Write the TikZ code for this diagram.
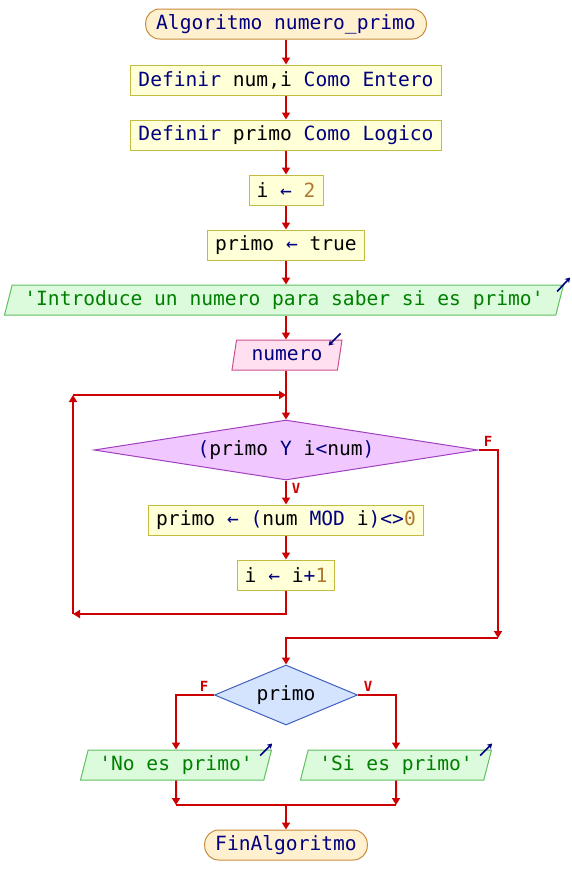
\documentclass[tikz,border=0pt]{standalone}
\usepackage{fontspec}
\setmonofont{DejaVu Sans Mono}
\usetikzlibrary{shapes.geometric,arrows.meta}

\definecolor{flujo}{RGB}{204,0,0}
\definecolor{clave}{RGB}{0,0,128}
\definecolor{numero}{RGB}{176,120,48}
\definecolor{cadena}{RGB}{0,128,0}
\definecolor{procfill}{RGB}{255,255,216}
\definecolor{procline}{RGB}{196,188,64}
\definecolor{extfill}{RGB}{255,240,208}
\definecolor{extline}{RGB}{200,140,60}
\definecolor{salfill}{RGB}{220,250,220}
\definecolor{salline}{RGB}{96,192,96}
\definecolor{entfill}{RGB}{255,224,240}
\definecolor{entline}{RGB}{204,80,144}
\definecolor{condfill}{RGB}{240,200,255}
\definecolor{condline}{RGB}{160,64,192}
\definecolor{selfill}{RGB}{212,228,255}
\definecolor{selline}{RGB}{64,96,192}

\newcommand{\kw}[1]{\textcolor{clave}{#1}}
\newcommand{\nr}[1]{\textcolor{numero}{#1}}
\newcommand{\asig}{\kw{←}}

\tikzset{
  base/.style={draw, line width=1pt, minimum height=30pt, inner ysep=0pt,
    font=\fontsize{19.6}{20}\ttfamily},
  proceso/.style={base, rectangle, fill=procfill, draw=procline, inner xsep=7.5pt},
  extremo/.style={base, rectangle, rounded corners=14pt, fill=extfill,
    draw=extline, inner xsep=10.5pt, text=clave},
  es/.style={base, trapezium, trapezium left angle=68, trapezium right angle=112,
    trapezium stretches body, inner xsep=3pt},
  salida/.style={es, fill=salfill, draw=salline, text=cadena},
  entrada/.style={es, fill=entfill, draw=entline, text=clave},
  decision/.style={base, diamond, inner sep=0pt},
  flecha/.style={draw=flujo, line width=2pt, -{Triangle[length=7pt,width=8pt]}},
  linea/.style={draw=flujo, line width=2pt},
  etiq/.style={text=flujo, font=\fontsize{14}{14}\bfseries\ttfamily, inner sep=0pt},
  icono/.style={draw=clave, line width=1.6pt, -{Stealth[length=5pt,width=6pt]}}
}

\begin{document}
\begin{tikzpicture}[x=1pt,y=-1pt]
  \useasboundingbox (0,0) rectangle (572,895);

  % nodos del diagrama
  \node (inicio) at (286,24) [extremo] {Algoritmo numero\_primo};
  \node (def1) at (286,80) [proceso] {\kw{Definir} num,i \kw{Como Entero}};
  \node (def2) at (286,135) [proceso] {\kw{Definir} primo \kw{Como Logico}};
  \node (asig1) at (286,190) [proceso] {i \asig{} \nr{2}};
  \node (asig2) at (286,245) [proceso] {primo \asig{} true};
  \node (mensaje) at (284,300) [salida, minimum width=559pt]
    {'Introduce un numero para saber si es primo'};
  \node (leer) at (287,355) [entrada, minimum width=110pt] {numero};
  \node (cond) at (286,450) [decision, fill=condfill, draw=condline,
    aspect=6.4, minimum width=384pt, minimum height=60pt]
    {\kw{(}primo \kw{Y} i\kw{<}num\kw{)}};
  \node (resto) at (286,520) [proceso]
    {primo \asig{} \kw{(}num \kw{MOD} i\kw{)<>}\nr{0}};
  \node (inc) at (286,575) [proceso] {i \asig{} i\kw{+}\nr{1}};
  \node (sel) at (286,695) [decision, fill=selfill, draw=selline,
    aspect=2.38, minimum width=143pt, minimum height=60pt] {primo};
  \node (noes) at (176,765) [salida, minimum width=191pt] {'No es primo'};
  \node (sies) at (396,765) [salida, minimum width=191pt] {'Si es primo'};
  \node (fin) at (286,845) [extremo] {FinAlgoritmo};

  % etiquetas de las ramas
  \node (fcond) at (488,441) [etiq] {F};
  \node (vcond) at (296,488) [etiq] {V};
  \node (fsel) at (204,686) [etiq] {F};
  \node (vsel) at (368,686) [etiq] {V};

  % puntos de paso
  \coordinate (bucleabajo) at (73,614);
  \coordinate (buclearriba) at (73,395);
  \coordinate (bucleentra) at (286,395);
  \coordinate (salebucle) at (498,638);
  \coordinate (juntaizq) at (176,805);
  \coordinate (juntader) at (396,805);
  \coordinate (juntamed) at (286,805);

  % conexiones
  \draw[flecha] (inicio) -- (def1);
  \draw[flecha] (def1) -- (def2);
  \draw[flecha] (def2) -- (asig1);
  \draw[flecha] (asig1) -- (asig2);
  \draw[flecha] (asig2) -- (asig2 |- mensaje.north);
  \draw[flecha] (asig2 |- mensaje.south) -- (asig2 |- leer.north);
  \draw[flecha] (asig2 |- leer.south) -- (cond.north);
  \draw[flecha] (cond.south) -- (resto);
  \draw[flecha] (resto) -- (inc);
  \draw[flecha] (inc.south) |- (bucleabajo);
  \draw[flecha] (bucleabajo) -- (buclearriba);
  \draw[flecha] (buclearriba) -- (bucleentra);
  \draw[flecha] (cond.east) -| (salebucle);
  \draw[flecha] (salebucle) -| (sel.north);
  \draw[flecha] (sel.west) -| (noes.north);
  \draw[flecha] (sel.east) -| (sies.north);
  \draw[flecha] (noes.south) -- (juntaizq);
  \draw[flecha] (sies.south) -- (juntader);
  \draw[linea] (juntaizq) -- (juntader);
  \draw[flecha] (juntamed) -- (fin);

  % iconos de entrada y salida
  \draw[icono] ([shift={(-7,7)}]mensaje.top right corner)
    -- ([shift={(6,-7)}]mensaje.top right corner);
  \draw[icono] ([shift={(-2,-6)}]leer.top right corner)
    -- ([shift={(-14,6)}]leer.top right corner);
  \draw[icono] ([shift={(-12,6)}]noes.top right corner)
    -- ([shift={(0,-6)}]noes.top right corner);
  \draw[icono] ([shift={(-12,6)}]sies.top right corner)
    -- ([shift={(0,-6)}]sies.top right corner);
\end{tikzpicture}
\end{document}
